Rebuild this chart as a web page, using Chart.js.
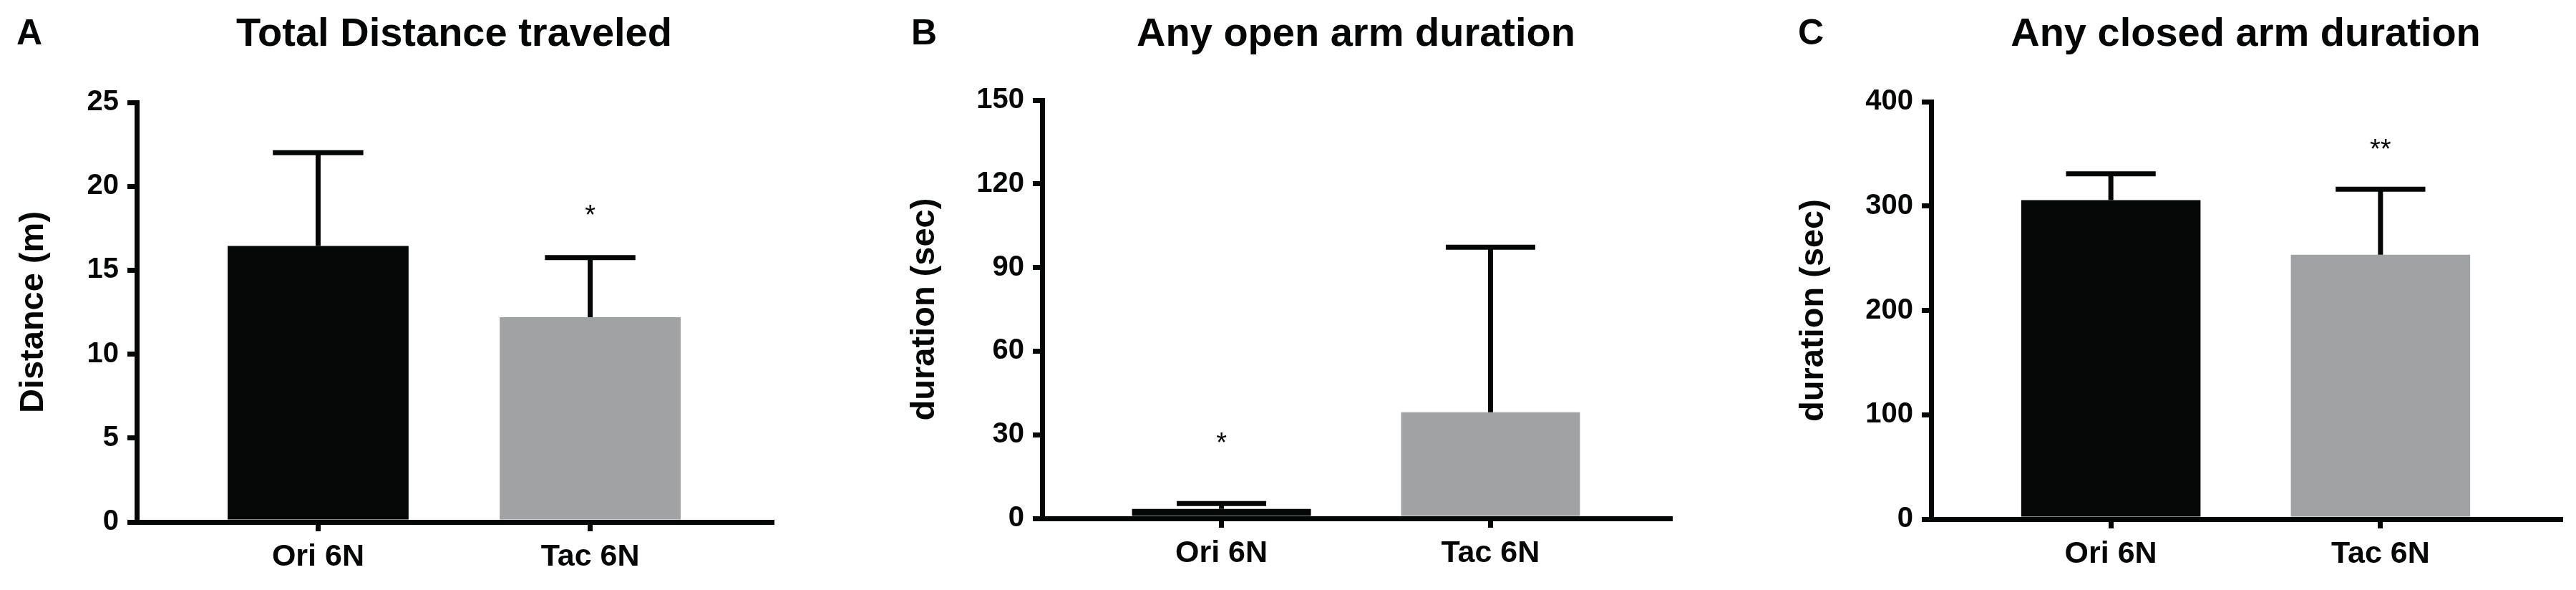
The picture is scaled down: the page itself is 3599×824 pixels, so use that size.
<!DOCTYPE html>
<html>
<head>
<meta charset="utf-8">
<title>Behaviour panels</title>
<script src="https://cdn.jsdelivr.net/npm/chart.js@4.4.0/dist/chart.umd.min.js"></script>
<style>
  html, body { margin: 0; padding: 0; background: #fff; }
  body { width: 3599px; height: 824px; position: relative; overflow: hidden; }
  canvas { position: absolute; top: 0; }
</style>
</head>
<body>
<canvas id="chartA"></canvas>
<canvas id="chartB"></canvas>
<canvas id="chartC"></canvas>
<script>
// ---- data ----
var groups = ['Ori 6N', 'Tac 6N'];
var barColors = ['#050706', '#a1a2a4'];

// A: total distance (m)
var distMean = [16.45, 12.2];
var distSD = [5.55, 3.55];
var distStars = ['', '*'];
var distStarAt = [null, 18.65];

// B: open arm duration (sec)
var openMean = [3.4, 38.1];
var openSD = [1.9, 59.2];
var openStars = ['*', ''];
var openStarAt = [29.4, null];

// C: closed arm duration (sec)
var closedMean = [305.6, 253.3];
var closedSD = [25.2, 62.8];
var closedStars = ['', '**'];
var closedStarAt = [null, 360.4];

var panelLetters = ['A', 'B', 'C'];
var panelTitles = ['Total Distance traveled', 'Any open arm duration', 'Any closed arm duration'];
var yTitles = ['Distance (m)', 'duration (sec)', 'duration (sec)'];
var yMax = [25, 150, 400];
var yStep = [5, 30, 100];

// ---- layout (pixels) ----
var panels = [
  {id: 'chartA', left: 0,    width: 1100, axisW: 191, top: 143, xH: 95,  right: 22, titlePad: 19,  letterX: 23},
  {id: 'chartB', left: 1200, width: 1160, axisW: 256, top: 140, xH: 100, right: 27, titlePad: 64,  letterX: 73},
  {id: 'chartC', left: 2400, width: 1199, axisW: 298, top: 142, xH: 99,  right: 22, titlePad: 106, letterX: 112}
];
var ink = '#050706';
var fam = '"Liberation Sans", Arial, Helvetica, sans-serif';
var xPad = 2 / 3; // space (in category units) left/right of the two groups

Chart.defaults.font.family = fam;

var errorBars = {
  id: 'errorBars',
  afterDatasetsDraw: function(chart, args, opts) {
    var ctx = chart.ctx;
    var ys = chart.scales.y;
    var meta = chart.getDatasetMeta(0);
    var vals = chart.data.datasets[0].data;
    ctx.save();
    ctx.strokeStyle = ink;
    ctx.fillStyle = ink;
    ctx.lineWidth = 7;
    ctx.lineCap = 'butt';
    meta.data.forEach(function(bar, i) {
      var top = ys.getPixelForValue(vals[i] + opts.sd[i]);
      var half = bar.width / 4;
      ctx.beginPath();
      ctx.moveTo(bar.x, bar.y);
      ctx.lineTo(bar.x, top);
      ctx.moveTo(bar.x - half, top);
      ctx.lineTo(bar.x + half, top);
      ctx.stroke();
      if (opts.stars[i]) {
        ctx.font = '38px ' + fam;
        ctx.textAlign = 'center';
        ctx.textBaseline = 'alphabetic';
        ctx.fillText(opts.stars[i], bar.x, ys.getPixelForValue(opts.starAt[i]) + 21);
      }
    });
    ctx.restore();
  }
};

var panelText = {
  id: 'panelText',
  afterDraw: function(chart, args, opts) {
    var ctx = chart.ctx, a = chart.chartArea;
    ctx.save();
    ctx.fillStyle = ink;
    ctx.textBaseline = 'alphabetic';
    ctx.textAlign = 'left';
    ctx.font = 'bold 50px ' + fam;
    ctx.fillText(opts.letter, opts.letterX, 62);
    ctx.textAlign = 'center';
    ctx.font = 'bold 56px ' + fam;
    ctx.fillText(opts.title, (a.left + a.right) / 2, 64);
    ctx.restore();
  }
};

function makePanel(p, means, sd, stars, starAt) {
  var L = panels[p];
  var cv = document.getElementById(L.id);
  cv.width = L.width;
  cv.height = 824;
  cv.style.left = L.left + 'px';
  return new Chart(cv.getContext('2d'), {
    type: 'bar',
    data: {
      labels: groups,
      datasets: [{
        data: means,
        backgroundColor: barColors,
        borderWidth: 0,
        categoryPercentage: 1,
        barPercentage: 0.665
      }]
    },
    options: {
      responsive: false,
      animation: false,
      layout: { padding: { top: L.top, right: L.right, left: 0, bottom: 0 } },
      plugins: {
        legend: { display: false },
        tooltip: { enabled: false },
        errorBars: { sd: sd, stars: stars, starAt: starAt },
        panelText: { letter: panelLetters[p], letterX: L.letterX, title: panelTitles[p] }
      },
      scales: {
        x: {
          offset: true,
          grid: { display: true, offset: false, drawOnChartArea: false, tickLength: 13, lineWidth: 7, color: ink },
          border: { display: true, width: 7, color: ink, z: 1 },
          ticks: { color: ink, font: { size: 43, weight: 'bold' }, padding: 10 },
          afterBuildTicks: function(s) { s._startValue = -xPad; s._valueRange = 1 + 2 * xPad; },
          afterFit: function(s) { s.height = L.xH; }
        },
        y: {
          min: 0,
          max: yMax[p],
          ticks: { stepSize: yStep[p], color: ink, font: { size: 40, weight: 'bold' }, padding: 12 },
          grid: { display: true, drawOnChartArea: false, tickLength: 13, lineWidth: 7, color: ink },
          border: { display: true, width: 7, color: ink, z: 1 },
          title: {
            display: true,
            text: yTitles[p],
            color: ink,
            font: { size: 47, weight: 'bold', lineHeight: 1.2 },
            padding: { top: L.titlePad, bottom: 0 }
          },
          afterFit: function(s) { s.width = L.axisW; }
        }
      }
    },
    plugins: [errorBars, panelText]
  });
}

makePanel(0, distMean, distSD, distStars, distStarAt);
makePanel(1, openMean, openSD, openStars, openStarAt);
makePanel(2, closedMean, closedSD, closedStars, closedStarAt);
</script>
</body>
</html>
